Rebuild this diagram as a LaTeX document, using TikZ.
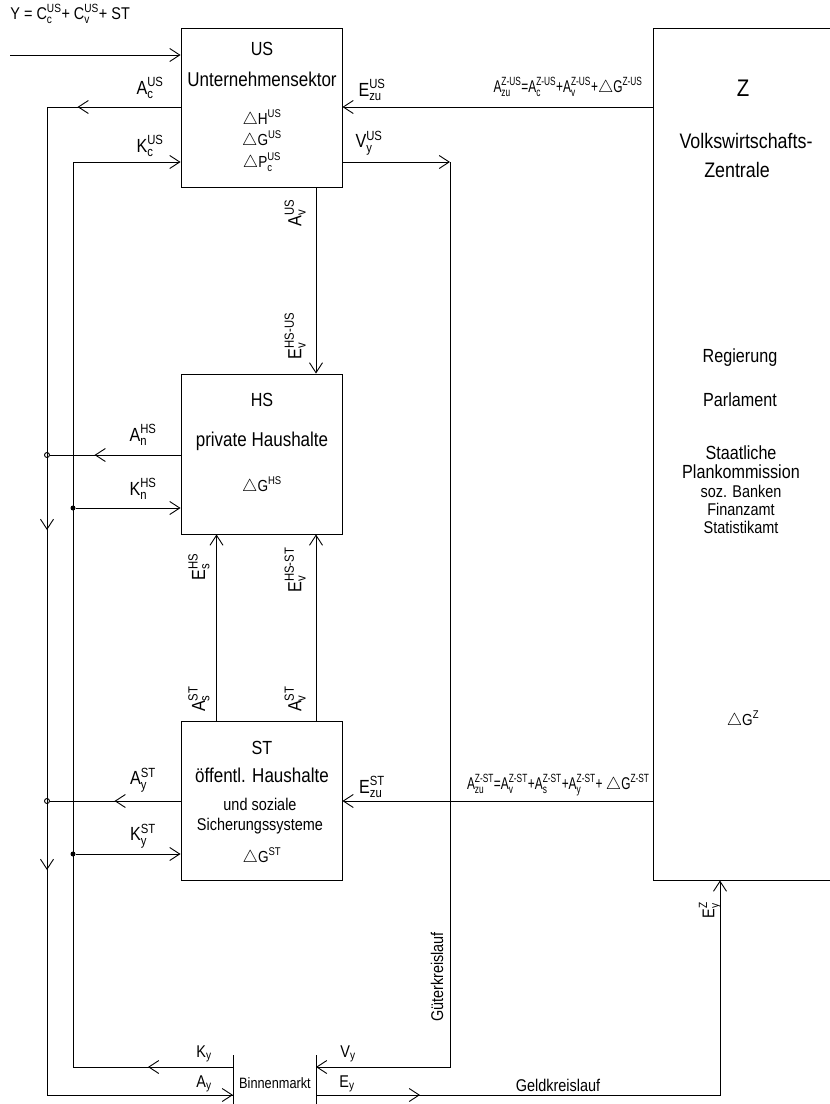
\documentclass[tikz,border=0pt]{standalone}
\usepackage{amsmath}
\usepackage{fontspec}
\setmainfont{Liberation Sans}[FakeStretch=0.85]
\newfontfamily\narrowfont{Liberation Sans}[FakeStretch=0.7]
\usepackage{tikz}
\usetikzlibrary{arrows.meta,positioning,calc}

\newcommand{\fl}[3]{$\text{#1}_{\text{#2}}^{\text{#3}}$}
\newcommand{\dG}[2]{$\triangle\text{#1}^{\text{#2}}$}
\newcommand{\fs}[1]{\fontsize{#1}{#1}\selectfont}

\begin{document}
\begin{tikzpicture}[x=1pt,y=-1pt,>={Straight Barb[length=10pt,width=13pt]},line width=0.9pt,
  every node/.style={font=\fs{19},align=center,inner sep=0pt}]
  \useasboundingbox (0,0) rectangle (830,1104);
  % sectors
  \node[draw,minimum width=161pt,minimum height=159pt] (us) at (261.5,107.5) {};
  \node[draw,minimum width=161pt,minimum height=160pt] (hs) at (261.5,454) {};
  \node[draw,minimum width=161pt,minimum height=159pt] (st) at (261.5,800.5) {};
  \node[draw,minimum width=190pt,minimum height=852pt] (z) at (748,454) {};
  % texts in the boxes
  \node (ust) at (262,49) {US};
  \node[font=\fs{20}] (usn) at (262,79) {Unternehmensektor};
  \node[font=\fs{16}] (ush) at (262,119) {\dG{H}{US}};
  \node[font=\fs{16}] (usg) at (262,140) {\dG{G}{US}};
  \node[font=\fs{16}] (usp) at (262,162) {$\triangle\text{P}_{\text{c}}^{\text{US}}$};
  \node (hst) at (262,400) {HS};
  \node[font=\fs{20}] (hsn) at (262,441) {private Haushalte};
  \node[font=\fs{16}] (hsg) at (262,486) {\dG{G}{HS}};
  \node (stt) at (262,748) {ST};
  \node[font=\fs{20}] (stn) at (262,775) {öffentl. Haushalte};
  \node[font=\fs{17}] (stu) at (260,804) {und soziale};
  \node[font=\fs{17}] (sts) at (260,826) {Sicherungssysteme};
  \node[font=\fs{16}] (stg) at (262,857) {\dG{G}{ST}};
  \node[font=\fs{24}] (zt) at (743,88) {Z};
  \node[font=\fs{21}] (zn) at (746,141) {Volkswirtschafts-};
  \node[font=\fs{21}] (zz) at (737,170) {Zentrale};
  \node[font=\fs{19}] (zr) at (740,358) {Regierung};
  \node[font=\fs{19}] (zp) at (740,400) {Parlament};
  \node[font=\fs{19}] (zs) at (741,453) {Staatliche};
  \node[font=\fs{19}] (zk) at (741,472) {Plankommission};
  \node[font=\fs{17}] (zb) at (741,491) {soz. Banken};
  \node[font=\fs{17}] (zf) at (741,509) {Finanzamt};
  \node[font=\fs{17}] (zsa) at (741,527) {Statistikamt};
  \node[font=\fs{16}] (zg) at (743,720) {\dG{G}{Z}};
  % junctions
  \node[circle,draw,fill=white,minimum size=5pt] (an) at (47,455) {};
  \node[circle,draw,fill=white,minimum size=5pt] (ayst) at (47,801) {};
  \node[circle,fill=black,minimum size=5pt] (kn) at (73,508) {};
  \node[circle,fill=black,minimum size=5pt] (kyst) at (73,854) {};
  \coordinate (in) at (10,55);
  \coordinate (ca) at (47,107);
  \coordinate (ck) at (73,162);
  \coordinate (vc) at (450,162);
  \coordinate (ky) at (233,1067);
  \coordinate (ay) at (233,1095);
  \coordinate (vy) at (316,1067);
  \coordinate (ey) at (316,1095);
  \coordinate (ez) at (720,1095);
  % Binnenmarkt
  \draw (233,1055) -- (233,1104);
  \draw (316,1055) -- (316,1104);
  \node[font=\fs{15}] (bm) at (275,1083) {Binnenmarkt};
  % flows
  \draw[->] (in) -- (in -| us.west);
  \draw (ca -| us.west) -- (ca) -- (ca |- ay) -- (ay);
  \draw[->] (ca -| us.west) -- ++(-103,0);
  \draw[->] (an) -- ++(0,75);
  \draw[->] (ayst) -- ++(0,69);
  \draw[->] (ca |- ay) -- (ay);
  \draw[->] (ky) -- (ck |- ky) -- (ck) -- (ck -| us.west);
  \draw[->] (ky) -- ++(-85,0);
  \draw (hs.west |- an) -- (an);
  \draw[->] (hs.west |- an) -- ++(-86,0);
  \draw[->] (kn) -- (kn -| hs.west);
  \draw (st.west |- ayst) -- (ayst);
  \draw[->] (st.west |- ayst) -- ++(-66,0);
  \draw[->] (kyst) -- (kyst -| st.west);
  \draw[->] (z.west |- ca) -- (us.east |- ca);
  \draw[->] (z.west |- ayst) -- (st.east |- ayst);
  \draw[->] (us.east |- ck) -- (vc);
  \draw[->] (vc) -- (vc |- vy) -- (vy);
  \draw[->] (ey) -- (ez) -- (z.south -| ez);
  \draw[->] (ey) -- ++(104,0);
  \draw[->] ($(us.south)+(54.5,0)$) -- ($(hs.north)+(54.5,0)$);
  \draw[->] ($(st.north)+(-45,0)$) -- ($(hs.south)+(-45,0)$);
  \draw[->] ($(st.north)+(54.5,0)$) -- ($(hs.south)+(54.5,0)$);
  % labels
  \node[anchor=west,font=\fs{17}] (yeq) at (10,14) {Y = \fl{C}{c}{US}+ \fl{C}{v}{US}+ ST};
  \node (acus) at (150,88) {\fl{A}{c}{US}};
  \node (kcus) at (150,146) {\fl{K}{c}{US}};
  \node (ezus) at (372,90) {\fl{E}{zu}{US}};
  \node (vyus) at (369,143) {\fl{V}{y}{US}};
  \node[anchor=east,font=\fs{17}\narrowfont] (azus) at (643,87) {\fl{A}{zu}{Z-US}=\fl{A}{c}{Z-US}+\fl{A}{v}{Z-US}+\dG{G}{Z-US}};
  \node[rotate=90] (avus) at (295,213) {\fl{A}{v}{US}};
  \node[rotate=90] (evhsus) at (295,336) {\fl{E}{v}{HS-US}};
  \node (anhs) at (143,435) {\fl{A}{n}{HS}};
  \node (knhs) at (143,489) {\fl{K}{n}{HS}};
  \node[rotate=90] (eshs) at (199,567) {\fl{E}{s}{HS}};
  \node[rotate=90] (evhsst) at (295,570) {\fl{E}{v}{HS-ST}};
  \node[rotate=90] (asst) at (199,699) {\fl{A}{s}{ST}};
  \node[rotate=90] (avst) at (295,699) {\fl{A}{v}{ST}};
  \node (aystl) at (143,780) {\fl{A}{y}{ST}};
  \node (kystl) at (143,836) {\fl{K}{y}{ST}};
  \node (ezst) at (372,787) {\fl{E}{zu}{ST}};
  \node[anchor=east,font=\fs{17}\narrowfont] (azst) at (650,785) {\fl{A}{zu}{Z-ST}=\fl{A}{v}{Z-ST}+\fl{A}{s}{Z-ST}+\fl{A}{y}{Z-ST}+ \dG{G}{Z-ST}};
  \node[rotate=90,font=\fs{17}] (eyz) at (710,910) {\fl{E}{y}{Z}};
  \node[rotate=90,font=\fs{17}] (gk) at (437,977) {Güterkreislauf};
  \node[font=\fs{17}] (gel) at (558,1085) {Geldkreislauf};
  \node[font=\fs{17}] (kyl) at (204,1054) {$\text{K}_{\text{y}}$};
  \node[font=\fs{17}] (ayl) at (204,1084) {$\text{A}_{\text{y}}$};
  \node[font=\fs{17}] (vyl) at (348,1054) {$\text{V}_{\text{y}}$};
  \node[font=\fs{17}] (eyl) at (347,1084) {$\text{E}_{\text{y}}$};
\end{tikzpicture}
\end{document}
